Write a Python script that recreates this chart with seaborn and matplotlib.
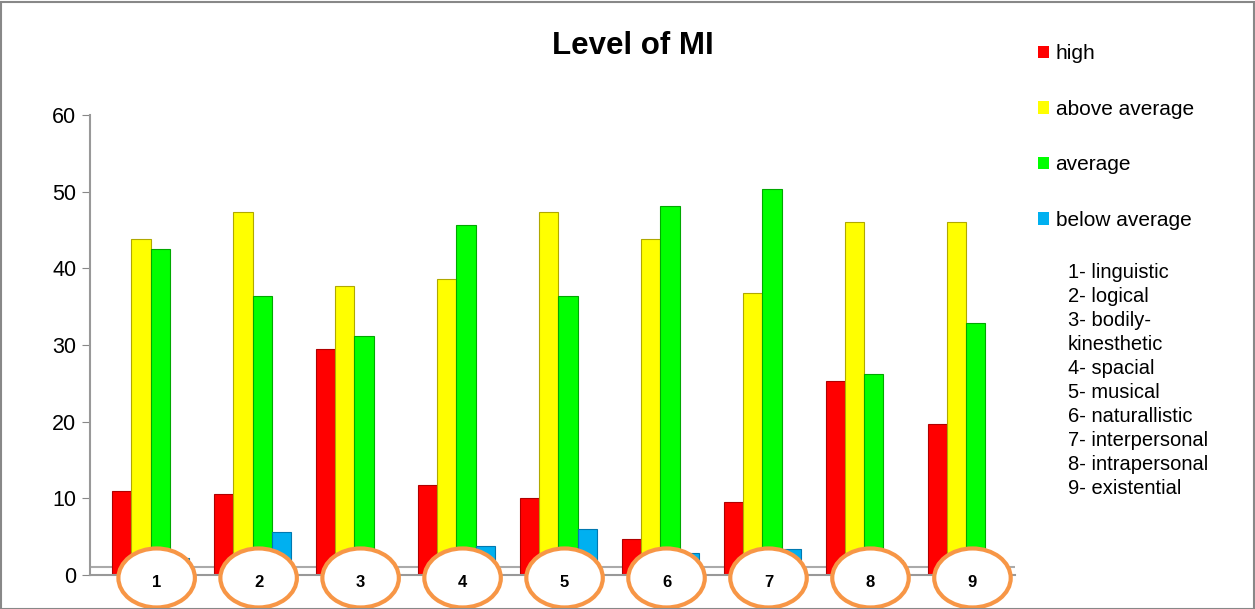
import numpy as np
import pandas as pd
import matplotlib
matplotlib.use("Agg")
import matplotlib.pyplot as plt
import seaborn as sns
from matplotlib.patches import Ellipse, Rectangle, Patch

# data
groups = ["1", "2", "3", "4", "5", "6", "7", "8", "9"]
levels = ["high", "above average", "average", "below average"]
high = [11, 10.5, 29.5, 11.7, 10, 4.7, 9.5, 25.3, 19.7]
above_avg = [43.8, 47.3, 37.7, 38.6, 47.3, 43.8, 36.8, 46, 46]
average = [42.5, 36.4, 31.2, 45.6, 36.4, 48.2, 50.3, 26.2, 32.9]
below_avg = [2.2, 5.6, 1.3, 3.8, 6, 2.9, 3.4, 1.9, 0.8]
mi_names = ["1- linguistic", "2- logical", "3- bodily-\nkinesthetic", "4- spacial",
            "5- musical", "6- naturallistic", "7- interpersonal",
            "8- intrapersonal", "9- existential"]
colors = ["#FF0000", "#FFFF00", "#00FF00", "#00B0F0"]
edges = ["#B00000", "#B0A800", "#00A800", "#0078B0"]

df = pd.DataFrame({
    "group": groups * 4,
    "level": np.repeat(levels, len(groups)),
    "value": high + above_avg + average + below_avg,
})

sns.set_style("white")
plt.rcParams["font.family"] = ["Liberation Sans", "DejaVu Sans"]
plt.rcParams["text.color"] = "black"
plt.rcParams["ytick.labelcolor"] = "black"

fig = plt.figure(figsize=(12.55, 6.09), dpi=100)
ax = fig.add_axes([0.072, 0.056, 0.737, 0.755])

sns.barplot(data=df, x="group", y="value", hue="level", hue_order=levels,
            palette=colors, width=0.75, ax=ax, legend=False, saturation=1)

# darker outline per series
for cont, ec in zip(ax.containers, edges):
    for bar in cont:
        bar.set_edgecolor(ec)
        bar.set_linewidth(0.8)

ax.set_ylim(0, 60)
ax.set_xlim(-0.59, 8.48)
ax.set_yticks(range(0, 61, 10))
ax.tick_params(axis="y", labelsize=15.5, length=6, color="#888888", direction="out",
               pad=4, left=True, labelcolor="black")
ax.set_xticks([])
ax.set_xlabel("")
ax.set_ylabel("")
for s in ["top", "right"]:
    ax.spines[s].set_visible(False)
for s in ["left", "bottom"]:
    ax.spines[s].set_color("#999999")
    ax.spines[s].set_linewidth(1.5)
ax.axhline(1.0, color="#aaaaaa", lw=1.5, zorder=0)

# orange ellipses with category numbers
for i, g in enumerate(groups):
    e = Ellipse((i + 0.06, -0.4), 0.75, 7.7, facecolor="white", edgecolor="#F79646",
                lw=3, clip_on=False, zorder=5)
    ax.add_patch(e)
    ax.text(i + 0.06, -1.0, g, ha="center", va="center", fontsize=12,
            fontweight="bold", zorder=6, clip_on=False)

fig.text(0.504, 0.925, "Level of MI", ha="center", va="center",
         fontsize=22.5, fontweight="bold")

handles = [Patch(facecolor=c, edgecolor="none") for c in colors]
fig.legend(handles, levels, loc="upper left", bbox_to_anchor=(0.812, 0.958),
           frameon=False, fontsize=15, labelspacing=1.75, handlelength=0.55,
           handleheight=0.55, handletextpad=0.3)

fig.text(0.851, 0.568, "\n".join(mi_names), ha="left", va="top",
         fontsize=14.5, linespacing=1.33)

fig.patches.append(Rectangle((0.001, 0.0), 0.998, 0.997, transform=fig.transFigure,
                             fill=False, edgecolor="#888888", lw=1.5))

fig.savefig("out.png", dpi=100, facecolor="white")
